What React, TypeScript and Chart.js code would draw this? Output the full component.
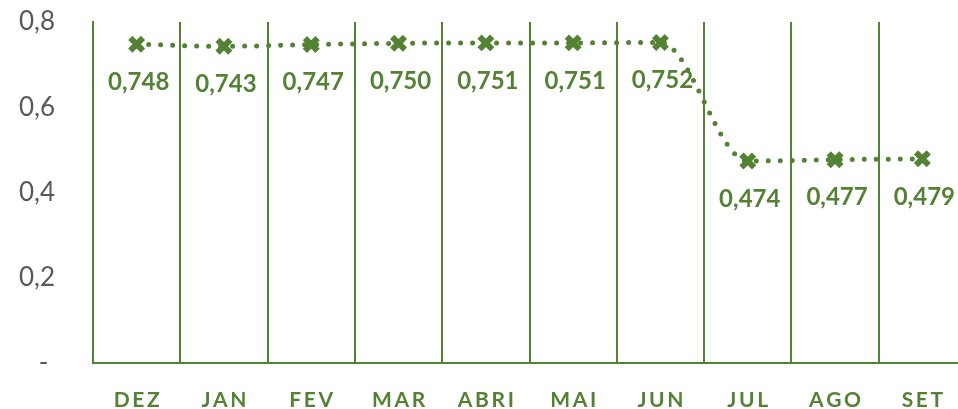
import React, { useEffect, useRef } from "react";
import { Chart, registerables } from "chart.js";

Chart.register(...registerables);

const categories = ["DEZ", "JAN", "FEV", "MAR", "ABRI", "MAI", "JUN", "JUL", "AGO", "SET"];
const values = [0.748, 0.743, 0.747, 0.75, 0.751, 0.751, 0.752, 0.474, 0.477, 0.479];
const yTicks = [0, 0.2, 0.4, 0.6, 0.8];

const GREEN = "#548235";
const GRAY = "#595959";

const spaced = (s: string) => s.split("").join("\u2009");
const fmt = (v: number) => v.toFixed(3).replace(".", ",");

const dataLabels = {
  id: "dataLabels",
  afterDatasetsDraw(chart: any) {
    const ctx = chart.ctx;
    const meta = chart.getDatasetMeta(0);
    ctx.save();
    ctx.font = "bold 24px Lato";
    ctx.fillStyle = GREEN;
    ctx.textAlign = "center";
    ctx.textBaseline = "middle";
    meta.data.forEach((pt: any, i: number) => {
      ctx.fillText(fmt(values[i]), pt.x + 2, pt.y + 38);
    });
    ctx.restore();
  },
};

export default function App() {
  const ref = useRef<HTMLCanvasElement>(null);
  useEffect(() => {
    if (!ref.current) return;
    const chart = new Chart(ref.current, {
      type: "line",
      data: {
        labels: categories.map(spaced),
        datasets: [
          {
            data: values,
            borderColor: GREEN,
            backgroundColor: GREEN,
            borderWidth: 5,
            borderDash: [0, 12],
            borderCapStyle: "round",
            cubicInterpolationMode: "monotone",
            pointStyle: "crossRot",
            pointRadius: 9,
            pointBorderWidth: 6,
            pointBorderColor: GREEN,
            pointBackgroundColor: GREEN,
          },
        ],
      },
      options: {
        animation: false,
        responsive: false,
        layout: { autoPadding: false, padding: { top: 22, left: 0, right: 0, bottom: 0 } },
        plugins: { legend: { display: false }, tooltip: { enabled: false } },
        scales: {
          x: {
            offset: true,
            grid: { display: true, offset: true, color: GREEN, lineWidth: 2, drawTicks: false },
            border: { display: true, color: GREEN, width: 2 },
            ticks: {
              color: GREEN,
              font: { family: "Lato", size: 21, weight: "bold" },
              padding: 25,
              maxRotation: 0,
              autoSkip: false,
            },
            afterFit(scale: any) {
              scale.height = 46;
              scale.paddingLeft = 0;
              scale.paddingRight = 0;
            },
          },
          y: {
            min: 0,
            max: 0.8,
            afterBuildTicks(scale: any) {
              scale.ticks = yTicks.map((v) => ({ value: v }));
            },
            grid: { display: false, drawTicks: false },
            border: { display: true, color: GREEN, width: 2 },
            ticks: {
              color: GRAY,
              font: { family: "Lato", size: 26 },
              padding: 38,
              callback: (v: any) => (Number(v) === 0 ? "- " : Number(v).toFixed(1).replace(".", ",")),
            },
            afterFit(scale: any) {
              scale.width = 93;
              scale.paddingTop = 0;
              scale.paddingBottom = 0;
            },
          },
        },
      },
      plugins: [dataLabels],
    });
    return () => chart.destroy();
  }, []);
  return (
    <div style={{ position: "absolute", left: 0, top: 0, width: 958, height: 409, overflow: "hidden", background: "#fff" }}>
      <canvas ref={ref} width={966} height={409} />
    </div>
  );
}
